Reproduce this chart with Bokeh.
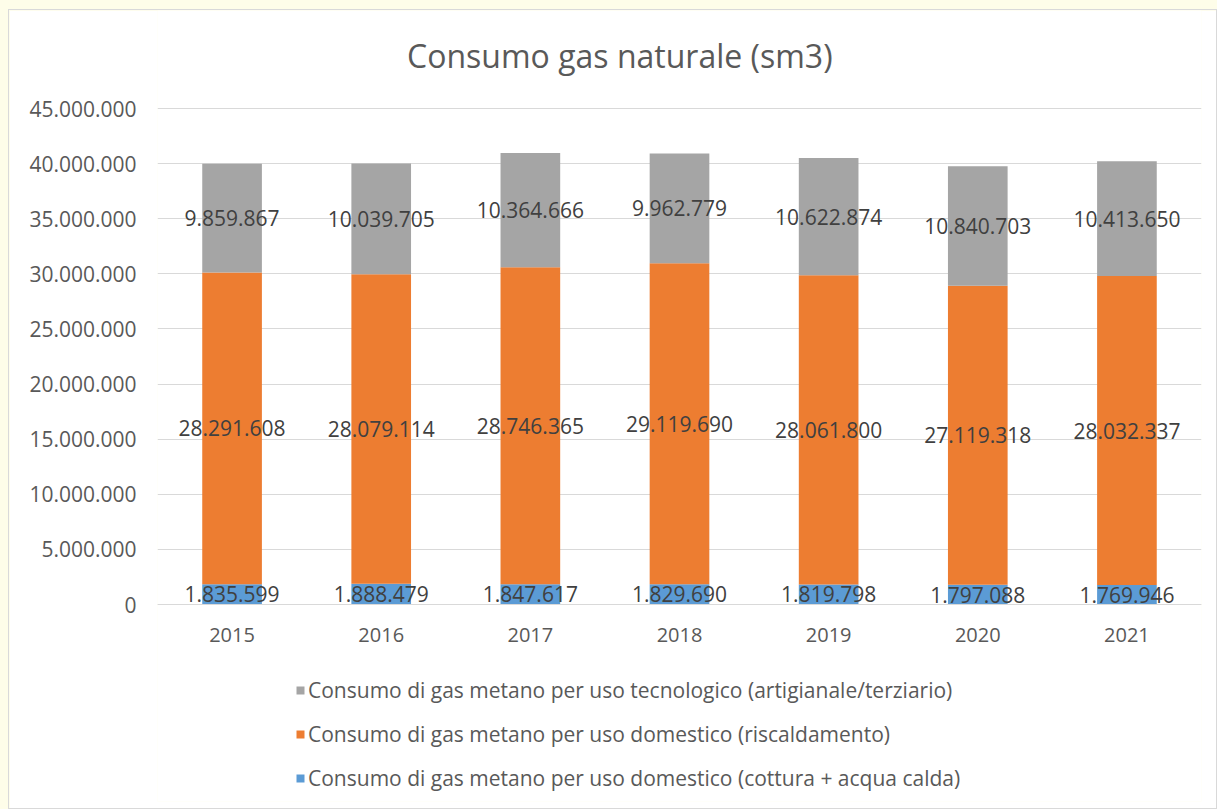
from bokeh.plotting import figure
from bokeh.models import (ColumnDataSource, Legend, LegendItem, CustomJSTickFormatter, FixedTicker,
                          CategoricalAxis, Label)
from bokeh.core.properties import value
from bokeh.embed import file_html
from bokeh.resources import INLINE

years = ["2015", "2016", "2017", "2018", "2019", "2020", "2021"]
cottura = [1835599, 1888479, 1847617, 1829690, 1819798, 1797088, 1769946]
riscaldamento = [28291608, 28079114, 28746365, 29119690, 28061800, 27119318, 28032337]
tecnologico = [9859867, 10039705, 10364666, 9962779, 10622874, 10840703, 10413650]
y_ticks = [0, 5000000, 10000000, 15000000, 20000000, 25000000, 30000000, 35000000, 40000000, 45000000]

title_text = "Consumo gas naturale (sm3)"
legend_labels = [
    "Consumo di gas metano per uso tecnologico (artigianale/terziario)",
    "Consumo di gas metano per uso domestico (riscaldamento)",
    "Consumo di gas metano per uso domestico (cottura + acqua calda)",
]
colors = ["#A5A5A5", "#ED7D31", "#5B9BD5"]


def fmt(v):
    return "{:,}".format(v).replace(",", ".")


b0 = [0] * len(years)
t0 = cottura
b1 = cottura
t1 = [a + b for a, b in zip(cottura, riscaldamento)]
b2 = t1
t2 = [a + b for a, b in zip(t1, tecnologico)]

src = ColumnDataSource(dict(
    x=years, b0=b0, t0=t0, b1=b1, t1=t1, b2=b2, t2=t2,
    m0=[(a + b) / 2 for a, b in zip(b0, t0)],
    m1=[(a + b) / 2 for a, b in zip(b1, t1)],
    m2=[(a + b) / 2 for a, b in zip(b2, t2)],
    l0=[fmt(v) for v in cottura],
    l1=[fmt(v) for v in riscaldamento],
    l2=[fmt(v) for v in tecnologico],
))

FONT = "Open Sans"

# The frame fills the whole figure height: the title sits above 45M and the
# legend below 0; the x axis is pinned at y = 0.
Y_MAX = 45000000
PX_PER_UNIT = 496 / Y_MAX          # 496 px between 0 and 45M
FRAME_H = 791
TOP_GAP_PX = 98                    # px between frame top and the 45M line
Y_TOP = Y_MAX + TOP_GAP_PX / PX_PER_UNIT
Y_BOTTOM = Y_TOP - FRAME_H / PX_PER_UNIT

p = figure(x_range=years, y_range=(Y_BOTTOM, Y_TOP), width=1209, height=800,
           output_backend="svg", toolbar_location=None, x_axis_location=None,
           min_border_left=148, min_border_right=17, min_border_top=0, min_border_bottom=9)
p.border_fill_color = "white"
p.background_fill_color = "white"
p.outline_line_color = None
p.styles = {"border": "1px solid #D9D9D9", "margin-left": "8px", "margin-top": "9px"}

title = Label(x=3.10, y=Y_MAX + 53 / PX_PER_UNIT, text=title_text,
              text_align="center", text_baseline="middle",
              text_font=FONT, text_font_size="32px", text_color="#595959")
p.add_layout(title)

r0 = p.vbar(x="x", bottom="b0", top="t0", width=0.4, source=src, fill_color=colors[2], line_color=None)
r1 = p.vbar(x="x", bottom="b1", top="t1", width=0.4, source=src, fill_color=colors[1], line_color=None)
r2 = p.vbar(x="x", bottom="b2", top="t2", width=0.4, source=src, fill_color=colors[0], line_color=None)

for m, l in (("m0", "l0"), ("m1", "l1"), ("m2", "l2")):
    p.text(x="x", y=m, text=l, source=src, text_align="center", text_baseline="middle",
           text_font=value(FONT), text_font_size="21px", text_color="#404040")

for g in p.grid:
    if g.dimension == 0:
        g.visible = False
    else:
        g.grid_line_color = "#D9D9D9"
        g.grid_line_width = 1
        g.ticker = FixedTicker(ticks=y_ticks)

p.yaxis.ticker = FixedTicker(ticks=y_ticks)
p.yaxis.formatter = CustomJSTickFormatter(code="return tick.toFixed(0).replace(/\\B(?=(\\d{3})+(?!\\d))/g, '.');")
p.yaxis.axis_line_color = None
p.yaxis.major_tick_line_color = None
p.yaxis.minor_tick_line_color = None
p.yaxis.major_tick_out = 0
p.yaxis.major_label_standoff = 21
p.yaxis.major_label_text_font = FONT
p.yaxis.major_label_text_font_size = "21px"
p.yaxis.major_label_text_color = "#595959"

xaxis = CategoricalAxis(fixed_location=0)
xaxis.axis_line_color = "#D9D9D9"
xaxis.major_tick_line_color = None
xaxis.minor_tick_line_color = None
xaxis.major_tick_out = 0
xaxis.major_label_standoff = 23
xaxis.major_label_text_font = FONT
xaxis.major_label_text_font_size = "20px"
xaxis.major_label_text_color = "#595959"
p.add_layout(xaxis, "below")

legend = Legend(items=[
    LegendItem(label=legend_labels[0], renderers=[r2]),
    LegendItem(label=legend_labels[1], renderers=[r1]),
    LegendItem(label=legend_labels[2], renderers=[r0]),
], location=(138, 9), orientation="vertical")
legend.background_fill_alpha = 0
legend.border_line_color = None
legend.padding = 0
legend.margin = 0
legend.spacing = 16
legend.label_height = 28
legend.glyph_width = 10
legend.glyph_height = 10
legend.label_standoff = 3
legend.label_text_font = FONT
legend.label_text_font_size = "21px"
legend.label_text_color = "#595959"
p.add_layout(legend, "center")

html = file_html(p, INLINE)
css = ("<style>html,body{margin:0 !important;padding:0 !important;overflow:hidden !important;"
       "background:#FEFDE9 !important;}</style></head>")
html = html.replace("</head>", css, 1)
open("out.html", "w").write(html)
